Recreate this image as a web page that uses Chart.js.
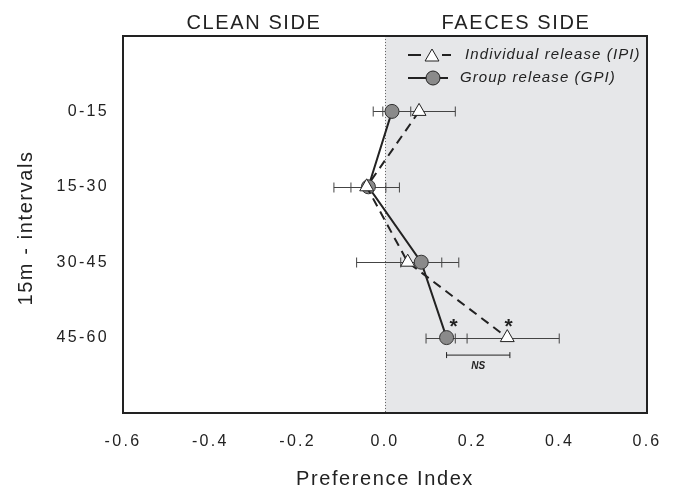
<!DOCTYPE html>
<html>
<head>
<meta charset="utf-8">
<script src="https://cdn.jsdelivr.net/npm/chart.js@4"></script>
<style>
  body { margin: 0; background: #fff; }
  #wrap { width: 674px; height: 488px; }
</style>
</head>
<body>
<div id="wrap"><canvas id="prefChart" width="674" height="488"></canvas></div>
<script>
// Data
const categories = ['0-15', '15-30', '30-45', '45-60'];
const ipiMean = [0.078, -0.042, 0.052, 0.280];   // Individual release (IPI)
const ipiErr  = [0.083, 0.075, 0.117, 0.119];
const gpiMean = [0.016, -0.038, 0.083, 0.141];   // Group release (GPI)
const gpiErr  = [0.043, 0.040, 0.047, 0.047];
const xTicks  = [-0.6, -0.4, -0.2, 0.0, 0.2, 0.4, 0.6];
const sigX    = [0.157, 0.283];                  // asterisks on the 45-60 row
const nsRange = [0.141, 0.286];

const INK = '#222';
const FONT = 'Arial, "Liberation Sans", Helvetica, sans-serif';

function toPoints(vals) {
  return vals.map((v, i) => ({ x: v, y: i + 1 }));
}

// grey "faeces side" background, dotted zero line
const backdrop = {
  id: 'backdrop',
  beforeDraw(chart) {
    // spaced-out lettering like the original figure (tick labels too)
    chart.ctx.letterSpacing = '2.3px';
  },
  beforeDatasetsDraw(chart) {
    const { ctx, chartArea: a, scales: { x } } = chart;
    const x0 = x.getPixelForValue(0);
    ctx.save();
    ctx.fillStyle = '#e6e7e9';
    ctx.fillRect(x0, a.top, a.right - x0, a.bottom - a.top);
    ctx.strokeStyle = '#666';
    ctx.lineWidth = 1;
    ctx.setLineDash([1, 2]);
    ctx.beginPath();
    ctx.moveTo(Math.round(x0) + 0.5, a.top);
    ctx.lineTo(Math.round(x0) + 0.5, a.bottom);
    ctx.stroke();
    ctx.restore();
  }
};

// horizontal error bars under the markers
const errorBars = {
  id: 'errorBars',
  beforeDatasetsDraw(chart) {
    const { ctx, scales: { x, y } } = chart;
    ctx.save();
    ctx.strokeStyle = '#444';
    ctx.lineWidth = 1;
    [[ipiMean, ipiErr], [gpiMean, gpiErr]].forEach(([m, e]) => {
      m.forEach((v, i) => {
        const py = Math.round(y.getPixelForValue(i + 1)) + 0.5;
        const xl = x.getPixelForValue(v - e[i]);
        const xr = x.getPixelForValue(v + e[i]);
        ctx.beginPath();
        ctx.moveTo(xl, py); ctx.lineTo(xr, py);
        ctx.moveTo(xl, py - 5); ctx.lineTo(xl, py + 5);
        ctx.moveTo(xr, py - 5); ctx.lineTo(xr, py + 5);
        ctx.stroke();
      });
    });
    ctx.restore();
  }
};

// frame, titles, legend, significance marks
const annotations = {
  id: 'annotations',
  afterDraw(chart) {
    const { ctx, chartArea: a, scales: { x, y } } = chart;
    ctx.save();
    ctx.strokeStyle = INK;
    ctx.lineWidth = 2;
    ctx.strokeRect(a.left, a.top, a.right - a.left, a.bottom - a.top);

    ctx.fillStyle = INK;
    ctx.textAlign = 'center';
    ctx.textBaseline = 'middle';
    ctx.letterSpacing = '1.6px';
    ctx.font = '20px ' + FONT;
    const x0 = x.getPixelForValue(0);
    ctx.fillText('CLEAN SIDE', (a.left + x0) / 2, 23);
    ctx.fillText('FAECES SIDE', (x0 + a.right) / 2, 23);
    ctx.fillText('Preference Index', x0, 479);
    ctx.save();
    ctx.translate(26, 228);
    ctx.rotate(-Math.PI / 2);
    ctx.fillText('15m - intervals', 0, 0);
    ctx.restore();

    // significance
    const rowY = y.getPixelForValue(4);
    ctx.letterSpacing = '0px';
    ctx.font = 'bold 21px ' + FONT;
    sigX.forEach(v => ctx.fillText('*', x.getPixelForValue(v), rowY - 10));
    const nx1 = x.getPixelForValue(nsRange[0]);
    const nx2 = x.getPixelForValue(nsRange[1]);
    const ny = rowY + 17.5;
    ctx.lineWidth = 1;
    ctx.beginPath();
    ctx.moveTo(nx1, ny); ctx.lineTo(nx2, ny);
    ctx.moveTo(nx1, ny - 3); ctx.lineTo(nx1, ny + 3);
    ctx.moveTo(nx2, ny - 3); ctx.lineTo(nx2, ny + 3);
    ctx.stroke();
    ctx.font = 'italic bold 10px ' + FONT;
    ctx.fillText('NS', (nx1 + nx2) / 2, ny + 11);

    // legend
    ctx.lineWidth = 2;
    ctx.beginPath();
    ctx.moveTo(408, 55); ctx.lineTo(421, 55);
    ctx.moveTo(442, 55); ctx.lineTo(451, 55);
    ctx.moveTo(408, 78); ctx.lineTo(448, 78);
    ctx.stroke();
    ctx.fillStyle = '#fff'; ctx.strokeStyle = INK; ctx.lineWidth = 1;
    ctx.beginPath();
    for (let k = 0; k < 3; k++) {
      const ang = k * 2 * Math.PI / 3;
      const px = 432 + Math.sin(ang) * 8, py = 57 - Math.cos(ang) * 8;
      k ? ctx.lineTo(px, py) : ctx.moveTo(px, py);
    }
    ctx.closePath(); ctx.fill(); ctx.stroke();
    ctx.fillStyle = '#8a8a8a';
    ctx.beginPath(); ctx.arc(433, 78, 7, 0, Math.PI * 2); ctx.fill(); ctx.stroke();
    ctx.fillStyle = INK;
    ctx.textAlign = 'left';
    ctx.font = 'italic 15px ' + FONT;
    ctx.letterSpacing = '1.1px';
    ctx.fillText('Individual release (IPI)', 465, 55);
    ctx.fillText('Group release (GPI)', 460, 78);
    ctx.restore();
  }
};

new Chart(document.getElementById('prefChart'), {
  type: 'scatter',
  data: {
    datasets: [
      {
        label: 'Individual release (IPI)',
        data: toPoints(ipiMean),
        showLine: true,
        borderColor: INK,
        borderWidth: 2,
        borderDash: [9, 6],
        pointStyle: 'triangle',
        pointRadius: 8,
        pointBackgroundColor: '#fff',
        pointBorderColor: INK,
        pointBorderWidth: 1
      },
      {
        label: 'Group release (GPI)',
        data: toPoints(gpiMean),
        showLine: true,
        borderColor: INK,
        borderWidth: 2,
        pointStyle: 'circle',
        pointRadius: 7,
        pointBackgroundColor: '#8a8a8a',
        pointBorderColor: '#333',
        pointBorderWidth: 1
      }
    ]
  },
  options: {
    responsive: false,
    animation: false,
    layout: { padding: { top: 36, right: 27, left: 0, bottom: 0 } },
    plugins: { legend: { display: false }, tooltip: { enabled: false } },
    scales: {
      x: {
        type: 'linear',
        min: -0.6,
        max: 0.6,
        afterBuildTicks: s => { s.ticks = xTicks.map(v => ({ value: v })); },
        afterFit: s => { s.height = 75; },
        grid: { display: false, drawTicks: true, tickLength: 5, tickColor: INK },
        border: { display: false },
        ticks: {
          color: INK,
          padding: 14,
          font: { family: FONT, size: 16 },
          callback: v => v.toFixed(1)
        }
      },
      y: {
        type: 'linear',
        reverse: true,
        min: 0,
        max: 5,
        afterBuildTicks: s => { s.ticks = categories.map((c, i) => ({ value: i + 1 })); },
        afterFit: s => { s.width = 123; },
        grid: { display: false, drawTicks: true, tickLength: 5, tickColor: INK },
        border: { display: false },
        ticks: {
          color: INK,
          padding: 9,
          font: { family: FONT, size: 16 },
          callback: v => categories[v - 1]
        }
      }
    }
  },
  plugins: [backdrop, errorBars, annotations]
});
</script>
</body>
</html>
